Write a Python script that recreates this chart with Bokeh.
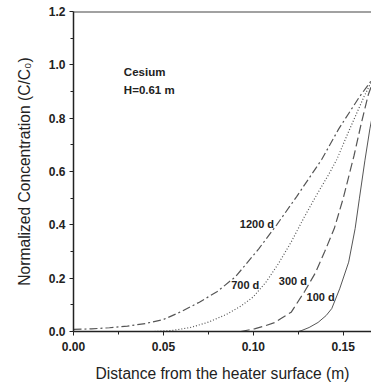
from bokeh.plotting import figure
from bokeh.models import FixedTicker, Range1d, Span, Label
from bokeh.core.properties import value
from bokeh.embed import file_html
from bokeh.resources import INLINE

# Data
x_1200 = [0.0, 0.01, 0.02, 0.03, 0.04, 0.05, 0.06, 0.07, 0.08, 0.09, 0.095, 0.103, 0.113, 0.124, 0.138, 0.1475, 0.159, 0.1655]
y_1200 = [0.008, 0.010, 0.014, 0.02, 0.03, 0.045, 0.075, 0.11, 0.15, 0.205, 0.245, 0.31, 0.40, 0.505, 0.645, 0.76, 0.88, 0.94]

x_700 = [0.045, 0.055, 0.065, 0.075, 0.085, 0.093, 0.100, 0.107, 0.114, 0.121, 0.128, 0.135, 0.142, 0.1464, 0.153, 0.1615, 0.1655]
y_700 = [0.0, 0.004, 0.015, 0.035, 0.064, 0.095, 0.13, 0.185, 0.255, 0.335, 0.425, 0.51, 0.59, 0.645, 0.75, 0.88, 0.935]

x_300 = [0.093, 0.1006, 0.106, 0.112, 0.1156, 0.121, 0.1285, 0.1345, 0.1397, 0.145, 0.150, 0.156, 0.160, 0.164, 0.1662]
y_300 = [0.0, 0.01, 0.02, 0.034, 0.05, 0.072, 0.15, 0.22, 0.30, 0.386, 0.50, 0.66, 0.78, 0.89, 0.93]

x_100 = [0.125, 0.127, 0.131, 0.136, 0.1405, 0.1436, 0.148, 0.153, 0.1566, 0.159, 0.162, 0.1648, 0.1665]
y_100 = [0.0, 0.004, 0.015, 0.034, 0.06, 0.086, 0.16, 0.26, 0.386, 0.50, 0.64, 0.76, 0.82]

curve_labels = ["1200 d", "700 d", "300 d", "100 d"]
label_x = [0.102, 0.0955, 0.122, 0.1374]
label_y = [0.405, 0.176, 0.19, 0.13]

x_ticks = [0.0, 0.05, 0.10, 0.15]
x_tick_labels = ["0.00", "0.05", "0.10", "0.15"]
x_minor = [0.025, 0.075, 0.125]
y_ticks = [0.0, 0.2, 0.4, 0.6, 0.8, 1.0, 1.2]
y_tick_labels = ["0.0", "0.2", "0.4", "0.6", "0.8", "1.0", "1.2"]
y_minor = [0.1, 0.3, 0.5, 0.7, 0.9, 1.1]

x_title = "Distance from the heater surface (m)"
y_title = "Normalized Concentration (C/C\u2080)"

FONT = "Liberation Sans"
INK = "#222222"
CURVE = "#555555"

p = figure(width=371, height=385, output_backend="svg", toolbar_location=None,
           x_range=Range1d(0, 0.1657), y_range=Range1d(0, 1.2),
           min_border_left=73, min_border_right=0, min_border_top=11, min_border_bottom=54)
p.outline_line_color = None
p.grid.grid_line_color = None
p.background_fill_color = "white"
p.border_fill_color = "white"

p.line(x_1200, y_1200, line_color=CURVE, line_width=1.2, line_dash="8 3 2 3")
p.line(x_700, y_700, line_color=CURVE, line_width=1.2, line_dash="1 2")
p.line(x_300, y_300, line_color=CURVE, line_width=1.2, line_dash="9 4")
p.line(x_100, y_100, line_color=CURVE, line_width=1.0)

p.text(x=label_x, y=label_y, text=curve_labels, text_align="center", text_baseline="middle",
       text_font=value(FONT), text_font_size="11px", text_font_style="bold", text_color=INK)

p.add_layout(Label(x=0.028, y=0.975, text="Cesium", text_font=FONT, text_font_size="11.5px",
                   text_font_style="bold", text_color=INK, text_baseline="middle"))
p.add_layout(Label(x=0.028, y=0.904, text="H=0.61 m", text_font=FONT, text_font_size="11.5px",
                   text_font_style="bold", text_color=INK, text_baseline="middle"))

p.add_layout(Span(location=1.2, dimension="width", line_color="#444444", line_width=2))

p.xaxis.ticker = FixedTicker(ticks=x_ticks, minor_ticks=x_minor)
p.xaxis.major_label_overrides = dict(zip(x_ticks, x_tick_labels))
p.yaxis.ticker = FixedTicker(ticks=y_ticks, minor_ticks=y_minor)
p.yaxis.major_label_overrides = dict(zip(y_ticks, y_tick_labels))

p.xaxis.axis_label = x_title
p.yaxis.axis_label = y_title

for ax in (p.xaxis, p.yaxis):
    ax.axis_line_color = INK
    ax.axis_line_width = 1.5
    ax.major_tick_line_color = INK
    ax.minor_tick_line_color = INK
    ax.major_tick_out = 4
    ax.major_tick_in = 0
    ax.minor_tick_out = 3
    ax.minor_tick_in = 0
    ax.major_label_text_font = FONT
    ax.major_label_text_font_size = "12px"
    ax.major_label_text_font_style = "bold"
    ax.major_label_text_color = INK
    ax.axis_label_text_font = FONT
    ax.axis_label_text_font_size = "15.6px"
    ax.axis_label_text_font_style = "normal"
    ax.axis_label_text_color = INK

p.xaxis.major_label_standoff = 6
p.yaxis.major_label_standoff = 4
p.xaxis.axis_label_standoff = 11
p.yaxis.axis_label_standoff = 13

open("out.html", "w").write(file_html(p, INLINE))
